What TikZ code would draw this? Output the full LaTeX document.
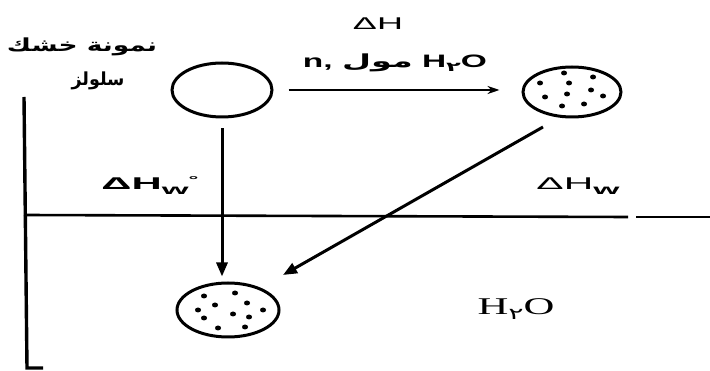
\documentclass[tikz,border=0pt]{standalone}
\usepackage{graphicx}
\usepackage{fontspec}
\setmainfont{Liberation Sans}
\newfontfamily\arabicfont[Script=Arabic]{DejaVu Sans}
\newfontfamily\serifH{Liberation Serif}
\usetikzlibrary{shapes.geometric,arrows.meta}
\TeXXeTstate=1
\begin{document}
\begin{tikzpicture}[x=1pt,y=-1pt,
  vessel/.style={draw,ellipse,line width=3pt,minimum width=100pt,minimum height=54pt,inner sep=0pt},
  lbl/.style={inner sep=0pt,anchor=base},
  arr/.style={line width=3pt,-{Triangle[length=14pt,width=11pt]}},
  wall/.style={line width=3.4pt},
  surf/.style={line width=2.6pt}]
\useasboundingbox (0,0) rectangle (710,371);
% vessels
\node[vessel] (a) at (222,90) {};
\node[vessel,minimum width=98pt,minimum height=50pt] (b) at (572,92) {};
\node[vessel,minimum width=102pt,minimum height=54pt] (c) at (228,310) {};
% dots
\foreach \dx/\dy in {-8/-19,21/-15,-32/-9,-3/-9,19/-2,-5/2,-27/5,31/4,-10/14,12/12}
  \fill ([shift={(\dx,\dy)}]b.center) ellipse [x radius=3pt,y radius=2.5pt];
\foreach \dx/\dy in {-24/-14,7/-17,-13/-5,19/-7,-30/0,5/4,35/0,-24/8,21/7,-10/18,17/17}
  \fill ([shift={(\dx,\dy)}]c.center) ellipse [x radius=3pt,y radius=2.5pt];
% wall and surface
\coordinate (wtop) at (24,97);
\coordinate (wbot) at (27,368);
\coordinate (wend) at (43,368);
\draw[wall] (wtop) -- (wbot) -- (wend);
\coordinate (sa) at (24,215);
\coordinate (sb) at (628,217);
\coordinate (sc) at (636,217);
\coordinate (sd) at (710,217);
\draw[surf] (sa) -- (sb);
\draw[surf] (sc) -- (sd);
% arrows
\draw[line width=2.2pt,-{Stealth[length=12pt,width=8pt]},shorten <=15pt,shorten >=22pt] (a.east) -- (a.east -| b.west);
\draw[arr,shorten <=10pt,shorten >=5pt] (a.south) -- (a.south |- c.north);
\draw[arr] ([shift={(-29,35)}]b.center) -- ([shift={(55,-35)}]c.center);
% labels
\node[lbl] (dH) at (378,30) {\resizebox{50pt}{\height}{\fontsize{17}{17}\selectfont ΔH}};
\node[lbl] (nmol) at (395,68) {\resizebox{184pt}{\height}{\fontsize{18}{18}\selectfont\bfseries n,\ {\arabicfont\bfseries\beginR مول\endR}\ H\raisebox{-4pt}{\fontsize{13}{13}\selectfont\arabicfont\bfseries ٢}O}};
\node[lbl] (sa1) at (82,52) {\resizebox{150pt}{\height}{\fontsize{18}{18}\selectfont\arabicfont\bfseries\beginR نمونة خشك\endR}};
\node[lbl] (sa2) at (98,86) {\resizebox{53pt}{\height}{\fontsize{18}{18}\selectfont\arabicfont\bfseries\beginR سلولز\endR}};
\node[lbl] (dHw0) at (150,190) {\resizebox{97pt}{\height}{\fontsize{17}{17}\selectfont\bfseries ΔH\raisebox{-5pt}{\fontsize{14}{14}\selectfont w}\raisebox{6pt}{\fontsize{10}{10}\selectfont °}}};
\node[lbl] (dHw) at (578,190) {\resizebox{83pt}{\height}{\fontsize{17}{17}\selectfont ΔH\raisebox{-5pt}{\fontsize{14}{14}\selectfont\bfseries w}}};
\node[lbl] (water) at (516,315) {\resizebox{77pt}{\height}{\fontsize{24}{24}\selectfont\serifH H\raisebox{-5pt}{\fontsize{16}{16}\selectfont\arabicfont ٢}O}};
\end{tikzpicture}
\end{document}
